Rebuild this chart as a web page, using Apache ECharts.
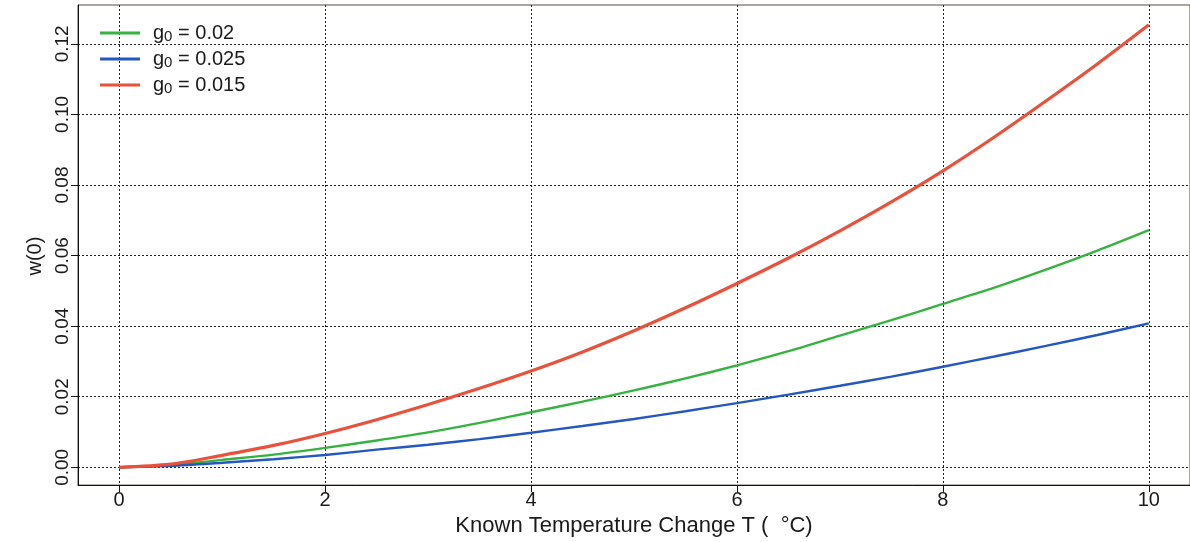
<!DOCTYPE html>
<html>
<head>
<meta charset="utf-8">
<script src="https://cdn.jsdelivr.net/npm/echarts@6/dist/echarts.min.js"></script>
<style>
  html, body { margin: 0; padding: 0; background: #fff; }
  #chart { width: 1190px; height: 542px; }
</style>
</head>
<body>
<div id="chart"></div>
<script>
// Temperature change T (°C)
const temps = [0, 0.5, 1, 1.5, 2, 2.5, 3, 3.5, 4, 4.5, 5, 5.5, 6, 6.5, 7, 7.5, 8, 8.5, 9, 9.5, 10];

// w(0) for each g0
const w_g0_020 = [0, 0.0006, 0.0021, 0.0036, 0.0055, 0.0076, 0.0099, 0.0126, 0.0156, 0.0186, 0.0218,
  0.0252, 0.0289, 0.0329, 0.0373, 0.0417, 0.0463, 0.0509, 0.0560, 0.0614, 0.0672];
const w_g0_025 = [0, 0.0004, 0.0013, 0.0023, 0.0035, 0.0050, 0.0064, 0.0080, 0.0098, 0.0117, 0.0137,
  0.0159, 0.0182, 0.0206, 0.0231, 0.0257, 0.0285, 0.0314, 0.0344, 0.0375, 0.0408];
const w_g0_015 = [0, 0.0009, 0.0034, 0.0062, 0.0096, 0.0135, 0.0178, 0.0224, 0.0273, 0.0327, 0.0387,
  0.0452, 0.0521, 0.0593, 0.0670, 0.0752, 0.0840, 0.0936, 0.1038, 0.1143, 0.1254];

const seriesNames = ['0.02', '0.025', '0.015'];
const xTicks = [0, 2, 4, 6, 8, 10];
const yTicks = [0, 0.02, 0.04, 0.06, 0.08, 0.10, 0.12];

const colors = ['#35b23f', '#2557c2', '#e8513a'];
const widths = [2.4, 2.4, 3.2];

function pairs(xs, ys) { return xs.map((x, i) => [x, ys[i]]); }

const gridLine = { show: true, lineStyle: { color: '#222', type: [2, 2], width: 1 } };
const font = 'Liberation Sans, Arial, sans-serif';
const ink = '#1a1a1a';

const chart = echarts.init(document.getElementById('chart'));
chart.setOption({
  animation: false,
  backgroundColor: '#fff',
  textStyle: { fontFamily: font },
  grid: {
    left: 78, top: 5, bottom: 56, right: -2,
    show: true, borderColor: '#5a4a44', borderWidth: 1
  },
  legend: {
    left: 95, top: 15, orient: 'vertical',
    itemWidth: 40, itemHeight: 3, itemGap: 2,
    icon: 'rect',
    textStyle: {
      fontFamily: font, fontSize: 20, color: ink,
      rich: {
        g: { fontSize: 20, lineHeight: 22, color: ink, fontFamily: font, padding: [0, 0, 0, 8] },
        s: { fontSize: 15, lineHeight: 22, color: ink, fontFamily: font, verticalAlign: 'bottom', padding: [9, 0, 0, 0] },
        t: { fontSize: 20, lineHeight: 22, color: ink, fontFamily: font }
      }
    },
    formatter: name => '{g|g}{s|0}{t| = ' + name + '}'
  },
  xAxis: {
    type: 'value', min: -0.4, max: 10.4,
    name: 'Known Temperature Change T (  °C)',
    nameLocation: 'middle', nameGap: 13,
    nameTextStyle: { fontSize: 22, color: ink, fontFamily: font },
    axisLine: { show: true, onZero: false, lineStyle: { color: '#111', width: 1 } },
    axisTick: { show: true, length: 7, customValues: xTicks, lineStyle: { color: '#111' } },
    axisLabel: { customValues: xTicks, fontSize: 20, color: ink, margin: 5 },
    splitLine: gridLine
  },
  yAxis: {
    type: 'value', min: -0.00504, max: 0.131,
    name: 'w(0)', nameLocation: 'middle', nameGap: 29, nameRotate: 90,
    nameTextStyle: { fontSize: 20, color: ink, fontFamily: font, padding: [0, 22, 0, 0] },
    axisLine: { show: true, onZero: false, lineStyle: { color: '#111', width: 1 } },
    axisTick: { show: true, length: 7, customValues: yTicks, lineStyle: { color: '#111' } },
    axisLabel: {
      customValues: yTicks, fontSize: 19, color: ink, rotate: 90, margin: 6,
      formatter: v => v.toFixed(2)
    },
    splitLine: gridLine
  },
  series: [w_g0_020, w_g0_025, w_g0_015].map((ys, i) => ({
    name: seriesNames[i],
    type: 'line',
    data: pairs(temps, ys),
    showSymbol: false,
    smooth: 0.3,
    color: colors[i],
    lineStyle: { color: colors[i], width: widths[i] }
  }))
});
</script>
</body>
</html>
